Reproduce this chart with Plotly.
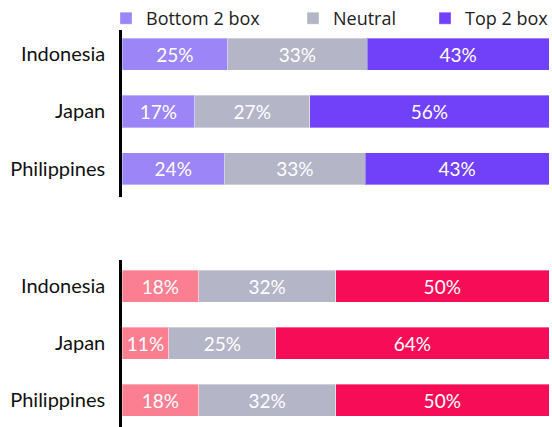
import plotly.graph_objects as go

countries = ["Indonesia", "Japan", "Philippines"]
series = ["Bottom 2 box", "Neutral", "Top 2 box"]

# top chart (purple)
top_bottom2 = [25, 17, 24]
top_neutral = [33, 27, 33]
top_top2 = [43, 56, 43]

# bottom chart (red)
low_bottom2 = [18, 11, 18]
low_neutral = [32, 25, 32]
low_top2 = [50, 64, 50]

purple = ["#9b85f7", "#b4b5c7", "#7041f9"]
red = ["#fb7e91", "#b4b5c7", "#f70c57"]

fig = go.Figure()

legends = ["legend", "legend2", "legend3"]
for vals, name, col, lg in zip([top_bottom2, top_neutral, top_top2], series, purple, legends):
    fig.add_trace(go.Bar(
        x=vals, y=countries, orientation="h", name=name,
        marker=dict(color=col, line=dict(color="rgba(255,255,255,0.35)", width=1)),
        text=[f"{v}%" for v in vals], textposition="inside", insidetextanchor="middle",
        textangle=0, textfont=dict(color="white", size=19, family="Lato"),
        xaxis="x", yaxis="y", legend=lg,
    ))

for vals, name, col in zip([low_bottom2, low_neutral, low_top2], series, red):
    fig.add_trace(go.Bar(
        x=vals, y=countries, orientation="h", name=name, showlegend=False,
        marker=dict(color=col, line=dict(color="rgba(255,255,255,0.35)", width=1)),
        text=[f"{v}%" for v in vals], textposition="inside", insidetextanchor="middle",
        textangle=0, textfont=dict(color="white", size=19, family="Lato"),
        xaxis="x2", yaxis="y2",
    ))

H, W = 427, 552
W0, PW = 122, 427  # plot left edge and width in px

leg_common = dict(orientation="h", xref="container", yref="container",
                  yanchor="top", y=1.0, xanchor="left",
                  font=dict(family="Open Sans", size=18, color="#222"),
                  bgcolor="rgba(0,0,0,0)", itemwidth=30)

yax_common = dict(showline=True, linecolor="black", linewidth=2.5, ticks="",
                  showgrid=False, automargin=False, ticklabelstandoff=10,
                  tickfont=dict(family="Lato", size=20, color="#111"))

fig.update_layout(
    width=W, height=H,
    margin=dict(l=W0, r=W - W0 - PW, t=0, b=0, autoexpand=False),
    barmode="stack", barnorm="percent", bargap=0.44,
    paper_bgcolor="white", plot_bgcolor="white",
    font=dict(family="Lato", size=17, color="#111"),
    xaxis=dict(visible=False, domain=[0, 1], range=[0, 100], automargin=False),
    xaxis2=dict(visible=False, domain=[0, 1], range=[0, 100], anchor="y2", automargin=False),
    yaxis=dict(domain=[(H - 197) / H, (H - 30) / H], range=[2.49, -0.42], anchor="x", **yax_common),
    yaxis2=dict(domain=[0, (H - 260) / H], range=[2.47, -0.46], anchor="x2", **yax_common),
    legend=dict(x=106 / W, **leg_common),
    legend2=dict(x=293 / W, **leg_common),
    legend3=dict(x=425 / W, **leg_common),
    showlegend=True,
)

# page has a default body margin; drop it so the figure fills the window
fig.write_html(
    "out.html",
    config={"displayModeBar": False},
    post_script="document.body.style.margin='0';document.body.style.overflow='hidden';",
)
